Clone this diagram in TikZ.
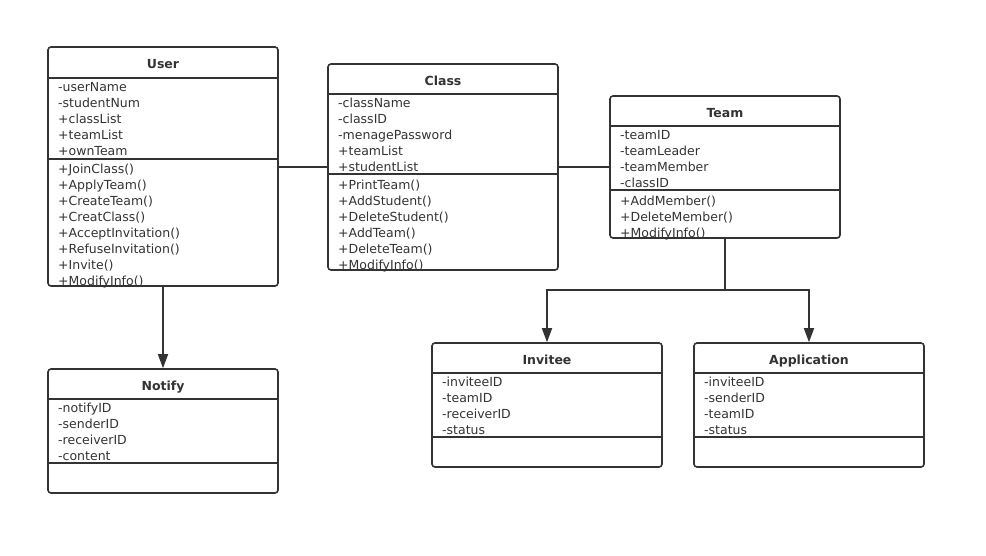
\documentclass[tikz,border=0pt]{standalone}
\usepackage{fontspec}
\setmainfont{DejaVu Sans}
\usetikzlibrary{arrows.meta}
\definecolor{umlgray}{HTML}{333333}

\begin{document}
\begin{tikzpicture}[x=1pt,y=-1pt,
    classbox/.style={draw=umlgray,line width=1.6pt,rounded corners=3pt,minimum width=230pt,inner sep=0pt},
    classtitle/.style={anchor=base,inner sep=0pt,font=\fontsize{12.5}{16}\selectfont\bfseries,text=umlgray},
    member/.style={anchor=base west,inner sep=0pt,font=\fontsize{12.5}{16}\selectfont,text=umlgray},
    divider/.style={draw=umlgray,line width=1.6pt},
    linkline/.style={draw=umlgray,line width=1.6pt},
    assoc/.style={linkline,-{Triangle[length=14pt,width=10pt]}}]
                \useasboundingbox[fill=white] (0,0) rectangle (986,555);

                \node[classbox,minimum height=239pt] (user) at (163,166.5) {};
                \node[classtitle] (user-t) at (163,68) {User};
                \draw[divider] (48,78) -- (278,78);
                \draw[divider] (48,159) -- (278,159);
                \foreach \m [count=\i] in {-userName,-studentNum,+classList,+teamList,+ownTeam}
                    \node[member] (user-a\i) at (58,75+16*\i) {\m};
                \foreach \m [count=\i] in {+JoinClass(),+ApplyTeam(),+CreateTeam(),+CreatClass(),+AcceptInvitation(),+RefuseInvitation(),+Invite(),+ModifyInfo()}
                    \node[member] (user-m\i) at (58,157+16*\i) {\m};

                \node[classbox,minimum height=206pt] (class) at (443,167) {};
                \node[classtitle] (class-t) at (443,85) {Class};
                \draw[divider] (328,94) -- (558,94);
                \draw[divider] (328,174) -- (558,174);
                \foreach \m [count=\i] in {-className,-classID,-menagePassword,+teamList,+studentList}
                    \node[member] (class-a\i) at (338,91+16*\i) {\m};
                \foreach \m [count=\i] in {+PrintTeam(),+AddStudent(),+DeleteStudent(),+AddTeam(),+DeleteTeam(),+ModifyInfo()}
                    \node[member] (class-m\i) at (338,173+16*\i) {\m};

                \node[classbox,minimum height=142pt] (team) at (725,167) {};
                \node[classtitle] (team-t) at (725,117) {Team};
                \draw[divider] (610,126) -- (840,126);
                \draw[divider] (610,190) -- (840,190);
                \foreach \m [count=\i] in {-teamID,-teamLeader,-teamMember,-classID}
                    \node[member] (team-a\i) at (620,123+16*\i) {\m};
                \foreach \m [count=\i] in {+AddMember(),+DeleteMember(),+ModifyInfo()}
                    \node[member] (team-m\i) at (620,189+16*\i) {\m};

                \node[classbox,minimum height=124pt] (notify) at (163,431) {};
                \node[classtitle] (notify-t) at (163,390) {Notify};
                \draw[divider] (48,399) -- (278,399);
                \draw[divider] (48,463) -- (278,463);
                \foreach \m [count=\i] in {-notifyID,-senderID,-receiverID,-content}
                    \node[member] (notify-a\i) at (58,396+16*\i) {\m};

                \node[classbox,minimum height=124pt] (invitee) at (547,405) {};
                \node[classtitle] (invitee-t) at (547,364) {Invitee};
                \draw[divider] (432,373) -- (662,373);
                \draw[divider] (432,437) -- (662,437);
                \foreach \m [count=\i] in {-inviteeID,-teamID,-receiverID,-status}
                    \node[member] (invitee-a\i) at (442,370+16*\i) {\m};

                \node[classbox,minimum height=124pt] (application) at (809,405) {};
                \node[classtitle] (application-t) at (809,364) {Application};
                \draw[divider] (694,373) -- (924,373);
                \draw[divider] (694,437) -- (924,437);
                \foreach \m [count=\i] in {-inviteeID,-senderID,-teamID,-status}
                    \node[member] (application-a\i) at (704,370+16*\i) {\m};

                \draw[linkline] (user.east |- class.west) -- (class.west);
                \draw[linkline] (class.east) -- (team.west);
                \draw[assoc] (user.south) -- (notify.north);
                \coordinate (fork) at (725,290);
                \draw[linkline] (team.south) -- (fork);
                \draw[assoc] (fork) -| (invitee.north);
                \draw[assoc] (fork) -| (application.north);
\end{tikzpicture}
\end{document}
